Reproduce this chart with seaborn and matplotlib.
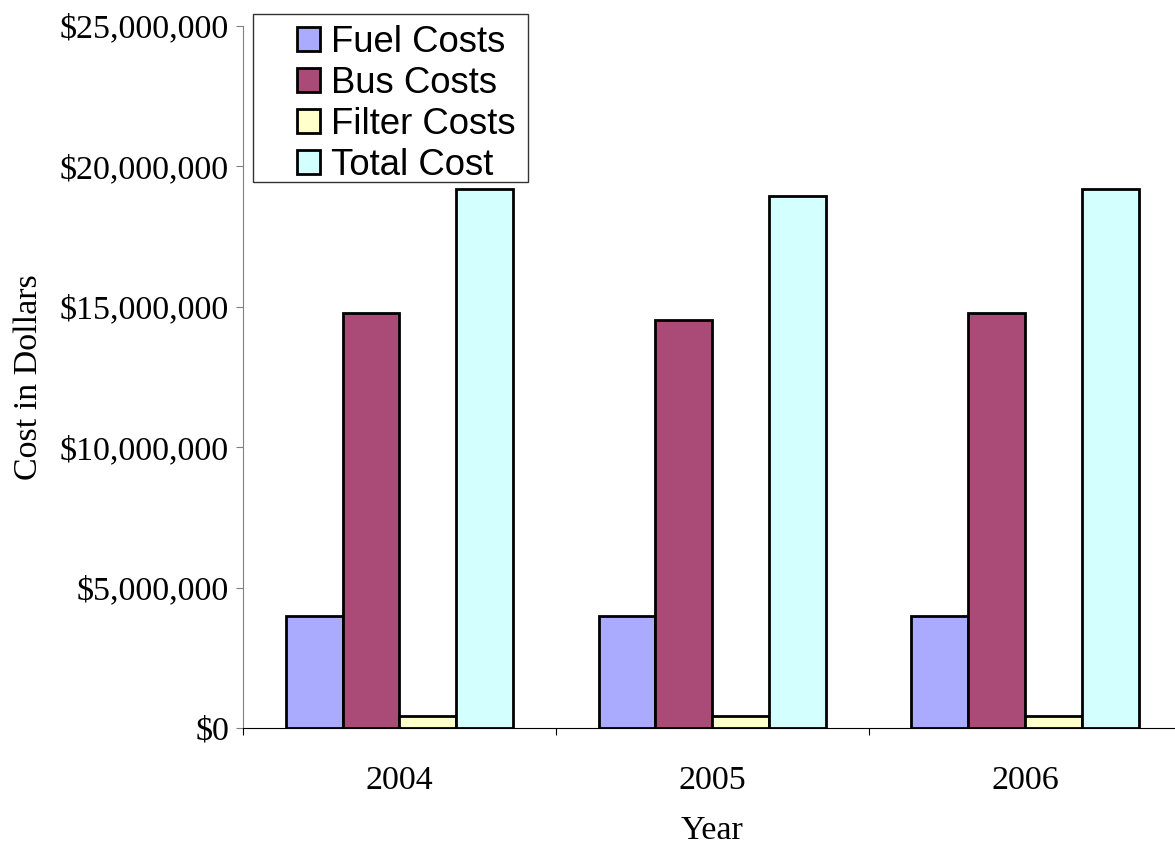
import numpy as np
import pandas as pd
import matplotlib
matplotlib.use("Agg")
import matplotlib.pyplot as plt
import matplotlib.patches as mpatches
from matplotlib.ticker import FuncFormatter, FixedLocator
import seaborn as sns

# data
years = ["2004", "2005", "2006"]
series = ["Fuel Costs", "Bus Costs", "Filter Costs", "Total Cost"]
fuel_costs = [4000000, 4000000, 4000000]
bus_costs = [14780000, 14540000, 14790000]
filter_costs = [420000, 420000, 420000]
total_cost = [19200000, 18960000, 19210000]
colors = ["#AAAAFF", "#AA4A76", "#FFFFCC", "#D4FFFF"]

values = [fuel_costs, bus_costs, filter_costs, total_cost]
rows = []
for name, vals in zip(series, values):
    for yr, v in zip(years, vals):
        rows.append({"Year": yr, "Cost": v, "Series": name})
df = pd.DataFrame(rows)
palette = dict(zip(series, colors))

sns.set_style("white")
plt.rcParams["font.family"] = ["Liberation Serif", "DejaVu Serif"]
plt.rcParams["text.color"] = "black"
plt.rcParams["axes.labelcolor"] = "black"
plt.rcParams["xtick.labelcolor"] = "black"
plt.rcParams["ytick.labelcolor"] = "black"

W, H = 1175, 851
fig = plt.figure(figsize=(W / 100, H / 100), dpi=100)
ax = fig.add_axes([243 / W, 123 / H, 932 / W, 702 / H])

sns.barplot(data=df, x="Year", y="Cost", hue="Series", hue_order=series,
            palette=palette, width=0.728, edgecolor="black", linewidth=2,
            saturation=1, legend=False, ax=ax)

ax.set_ylim(0, 25000000)
ax.set_xlim(-0.5, 2.478)
ax.yaxis.set_major_locator(FixedLocator(np.arange(0, 25000001, 5000000)))
ax.yaxis.set_major_formatter(FuncFormatter(lambda v, p: f"${v:,.0f}"))

ax.set_xticks([0, 1, 2])
ax.set_xticklabels(years)
ax.set_xticks([-0.5, 0.5, 1.5], minor=True)
ax.tick_params(axis="x", which="major", length=0, pad=27, labelsize=24.5,
               labelcolor="black")
ax.tick_params(axis="x", which="minor", length=5, width=0.8, color="black",
               direction="out", bottom=True)
ax.tick_params(axis="y", which="major", length=5, width=0.8, color="#808080",
               direction="out", left=True, pad=5, labelsize=24.5,
               labelcolor="black")

for s in ["top", "right"]:
    ax.spines[s].set_visible(False)
ax.spines["left"].set_color("#808080")
ax.spines["left"].set_linewidth(0.8)
ax.spines["bottom"].set_color("black")
ax.spines["bottom"].set_linewidth(0.8)

ax.set_ylabel("Cost in Dollars", fontsize=24.5, color="black")
ax.yaxis.set_label_coords(-0.214, 0.5)
ax.set_xlabel("Year", fontsize=24.5, color="black")
ax.xaxis.set_label_coords(0.503, -0.124)

# legend (frame drawn separately to get the wide left margin)
handles = [mpatches.Patch(facecolor=palette[s], edgecolor="black", linewidth=2, label=s)
           for s in series]
fig.legend(handles=handles, loc="upper left", bbox_to_anchor=(279 / W, 1 - 7 / H),
           bbox_transform=fig.transFigure, frameon=False, borderpad=0,
           prop={"family": "Liberation Sans", "size": 26.3},
           handlelength=0.63, handleheight=0.63, handletextpad=0.3,
           labelspacing=0.16, labelcolor="black")
fig.patches.append(mpatches.Rectangle((253 / W, 1 - 182 / H), 275 / W, 168 / H,
                                      transform=fig.transFigure, fill=False,
                                      edgecolor="#333333", linewidth=1))

plt.savefig("out.png", dpi=100)
